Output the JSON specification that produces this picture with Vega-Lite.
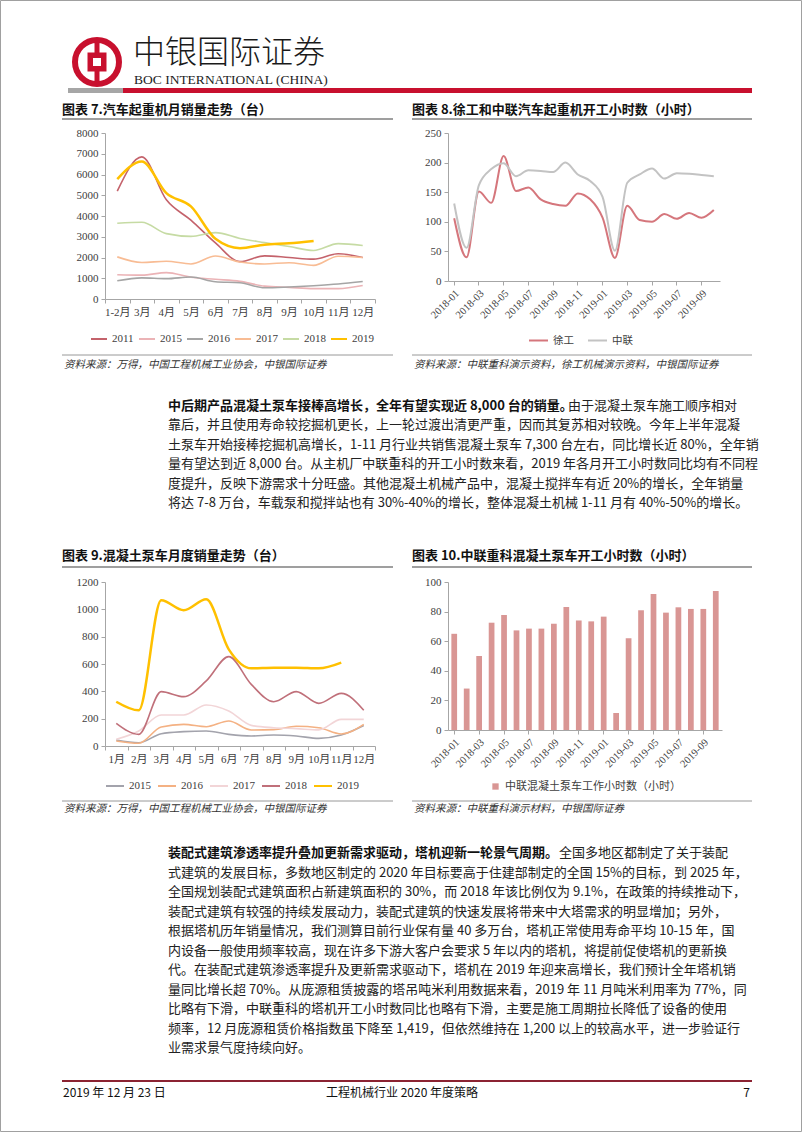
{
  "$schema": "https://vega.github.io/schema/vega-lite/v6.json",
  "padding": 0,
  "background": "white",
  "columns": 3,
  "bounds": "flush",
  "align": {"row": "each", "column": "none"},
  "spacing": {"row": 0, "column": 73},
  "resolve": {"scale": {"color": "independent", "strokeWidth": "independent"}, "legend": {"color": "independent"}},
  "datasets": {
    "one": [{"k": 1}]
  },
  "config": {
    "view": {"stroke": null},
    "axis": {
      "domainColor": "#A6A6A6", "tickColor": "#A6A6A6", "tickSize": 4,
      "labelFont": "Liberation Serif, Noto Sans CJK SC", "labelFontSize": 11,
      "labelColor": "#404040", "title": null, "grid": false, "labelPadding": 3,
      "labelOverlap": false
    },
    "legend": {
      "labelFont": "Liberation Serif, Noto Sans CJK SC", "labelFontSize": 11,
      "labelColor": "#404040", "title": null, "labelOffset": 4
    }
  },
  "concat": [
    {
      "width": 1, "height": 133,
      "resolve": {"scale": {"y": "independent", "x": "independent"}},
      "layer": [
        {"data": {"name": "one"}, "mark": {"type": "rect", "fill": null, "stroke": "#A0A0A0", "strokeWidth": 1}, "encoding": {"x": {"value": 0.5}, "x2": {"value": 801.5}, "y": {"value": 0.5}, "y2": {"value": 1131.5}}},
        {"data": {"name": "one"}, "mark": {"type": "point", "shape": "circle", "filled": false, "stroke": "#C8102E", "strokeWidth": 6, "size": 1936, "opacity": 1}, "encoding": {"x": {"value": 97}, "y": {"value": 62}}},
        {"data": {"name": "one"}, "mark": {"type": "rule", "stroke": "#C8102E", "strokeWidth": 5}, "encoding": {"x": {"value": 97}, "y": {"value": 38}, "y2": {"value": 86}}},
        {"data": {"name": "one"}, "mark": {"type": "point", "shape": "square", "filled": true, "color": "#C8102E", "size": 361, "opacity": 1}, "encoding": {"x": {"value": 97}, "y": {"value": 62}}},
        {"data": {"name": "one"}, "mark": {"type": "point", "shape": "square", "filled": true, "color": "white", "size": 64, "opacity": 1}, "encoding": {"x": {"value": 97}, "y": {"value": 62}}},
        {"data": {"values": [{"t": "中银国际证券"}]}, "mark": {"type": "text", "align": "left", "baseline": "middle", "font": "Noto Sans CJK SC", "fontSize": 32, "fontWeight": 300, "color": "#1a1a1a"}, "encoding": {"text": {"field": "t"}, "x": {"value": 133}, "y": {"value": 53}}},
        {"data": {"values": [{"t": "BOC INTERNATIONAL (CHINA)"}]}, "mark": {"type": "text", "align": "left", "baseline": "middle", "font": "Liberation Serif", "fontSize": 13.5, "color": "#222"}, "encoding": {"text": {"field": "t"}, "x": {"value": 134}, "y": {"value": 80}}},
        {"data": {"name": "one"}, "mark": {"type": "rect", "color": "#A6A6A6"}, "encoding": {"x": {"value": 68}, "x2": {"value": 123}, "y": {"value": 88}, "y2": {"value": 93}}},
        {"data": {"name": "one"}, "mark": {"type": "rect", "color": "#C8102E"}, "encoding": {"x": {"value": 123}, "x2": {"value": 752}, "y": {"value": 88}, "y2": {"value": 93}}},

        {"data": {"values": [{"t": "图表 7.汽车起重机月销量走势（台）"}]}, "mark": {"type": "text", "align": "left", "baseline": "middle", "font": "Noto Sans CJK SC", "fontSize": 13, "fontWeight": "bold", "color": "#111"}, "encoding": {"text": {"field": "t"}, "x": {"value": 62}, "y": {"value": 110}}},
        {"data": {"values": [{"t": "图表 8.徐工和中联汽车起重机开工小时数（小时）"}]}, "mark": {"type": "text", "align": "left", "baseline": "middle", "font": "Noto Sans CJK SC", "fontSize": 13, "fontWeight": "bold", "color": "#111"}, "encoding": {"text": {"field": "t"}, "x": {"value": 412}, "y": {"value": 110}}},
        {"data": {"values": [{"t": "图表 9.混凝土泵车月度销量走势（台）"}]}, "mark": {"type": "text", "align": "left", "baseline": "middle", "font": "Noto Sans CJK SC", "fontSize": 13, "fontWeight": "bold", "color": "#111"}, "encoding": {"text": {"field": "t"}, "x": {"value": 62}, "y": {"value": 556}}},
        {"data": {"values": [{"t": "图表 10.中联重科混凝土泵车开工小时数（小时）"}]}, "mark": {"type": "text", "align": "left", "baseline": "middle", "font": "Noto Sans CJK SC", "fontSize": 13, "fontWeight": "bold", "color": "#111"}, "encoding": {"text": {"field": "t"}, "x": {"value": 412}, "y": {"value": 556}}},
        {"data": {"name": "one"}, "mark": {"type": "rule", "stroke": "#404040", "strokeWidth": 1.2}, "encoding": {"x": {"value": 62}, "x2": {"value": 393}, "y": {"value": 119}}},
        {"data": {"name": "one"}, "mark": {"type": "rule", "stroke": "#404040", "strokeWidth": 1.2}, "encoding": {"x": {"value": 412}, "x2": {"value": 752}, "y": {"value": 119}}},
        {"data": {"name": "one"}, "mark": {"type": "rule", "stroke": "#404040", "strokeWidth": 1.2}, "encoding": {"x": {"value": 62}, "x2": {"value": 393}, "y": {"value": 567}}},
        {"data": {"name": "one"}, "mark": {"type": "rule", "stroke": "#404040", "strokeWidth": 1.2}, "encoding": {"x": {"value": 412}, "x2": {"value": 752}, "y": {"value": 567}}},

        {"data": {"name": "one"}, "mark": {"type": "rule", "stroke": "#7F7F7F", "strokeWidth": 0.8}, "encoding": {"x": {"value": 62}, "x2": {"value": 393}, "y": {"value": 355}}},
        {"data": {"name": "one"}, "mark": {"type": "rule", "stroke": "#7F7F7F", "strokeWidth": 0.8}, "encoding": {"x": {"value": 412}, "x2": {"value": 752}, "y": {"value": 355}}},
        {"data": {"name": "one"}, "mark": {"type": "rule", "stroke": "#7F7F7F", "strokeWidth": 0.8}, "encoding": {"x": {"value": 62}, "x2": {"value": 393}, "y": {"value": 801}}},
        {"data": {"name": "one"}, "mark": {"type": "rule", "stroke": "#7F7F7F", "strokeWidth": 0.8}, "encoding": {"x": {"value": 412}, "x2": {"value": 752}, "y": {"value": 801}}},
        {"data": {"values": [{"t": "资料来源：万得，中国工程机械工业协会，中银国际证券"}]}, "mark": {"type": "text", "align": "left", "baseline": "middle", "font": "Noto Sans CJK SC", "fontSize": 10.5, "fontStyle": "italic", "color": "#333"}, "encoding": {"text": {"field": "t"}, "x": {"value": 64}, "y": {"value": 365}}},
        {"data": {"values": [{"t": "资料来源：中联重科演示资料，徐工机械演示资料，中银国际证券"}]}, "mark": {"type": "text", "align": "left", "baseline": "middle", "font": "Noto Sans CJK SC", "fontSize": 10.5, "fontStyle": "italic", "color": "#333"}, "encoding": {"text": {"field": "t"}, "x": {"value": 414}, "y": {"value": 365}}},
        {"data": {"values": [{"t": "资料来源：万得，中国工程机械工业协会，中银国际证券"}]}, "mark": {"type": "text", "align": "left", "baseline": "middle", "font": "Noto Sans CJK SC", "fontSize": 10.5, "fontStyle": "italic", "color": "#333"}, "encoding": {"text": {"field": "t"}, "x": {"value": 64}, "y": {"value": 809}}},
        {"data": {"values": [{"t": "资料来源：中联重科演示材料，中银国际证券"}]}, "mark": {"type": "text", "align": "left", "baseline": "middle", "font": "Noto Sans CJK SC", "fontSize": 10.5, "fontStyle": "italic", "color": "#333"}, "encoding": {"text": {"field": "t"}, "x": {"value": 414}, "y": {"value": 809}}},

        {"data": {"values": [{"t": "中后期产品混凝土泵车接棒高增长，全年有望实现近 8,000 台的销量。"}]}, "mark": {"type": "text", "align": "left", "baseline": "middle", "font": "Liberation Sans Narrow, Noto Sans CJK SC", "fontSize": 13, "fontWeight": "bold", "color": "#111"}, "encoding": {"text": {"field": "t"}, "x": {"value": 168}, "y": {"value": 406}}},
        {"data": {"values": [{"t": "由于混凝土泵车施工顺序相对"}]}, "mark": {"type": "text", "align": "left", "baseline": "middle", "font": "Liberation Sans Narrow, Noto Sans CJK SC", "fontSize": 13, "color": "#222", "dx": 400}, "encoding": {"text": {"field": "t"}, "x": {"value": 168}, "y": {"value": 406}}},
        {"data": {"values": [
          {"line": 2, "t": "靠后，并且使用寿命较挖掘机更长，上一轮过渡出清更严重，因而其复苏相对较晚。今年上半年混凝"},
          {"line": 3, "t": "土泵车开始接棒挖掘机高增长，1-11 月行业共销售混凝土泵车 7,300 台左右，同比增长近 80%，全年销"},
          {"line": 4, "t": "量有望达到近 8,000 台。从主机厂中联重科的开工小时数来看，2019 年各月开工小时数同比均有不同程"},
          {"line": 5, "t": "度提升，反映下游需求十分旺盛。其他混凝土机械产品中，混凝土搅拌车有近 20%的增长，全年销量"},
          {"line": 6, "t": "将达 7-8 万台，车载泵和搅拌站也有 30%-40%的增长，整体混凝土机械 1-11 月有 40%-50%的增长。"}
        ]}, "mark": {"type": "text", "align": "left", "baseline": "middle", "font": "Liberation Sans Narrow, Noto Sans CJK SC", "fontSize": 13, "color": "#222"},
         "encoding": {"text": {"field": "t"}, "x": {"value": 168}, "y": {"field": "line", "type": "quantitative", "scale": {"domain": [1, 6], "range": [406, 503], "zero": false, "nice": false}, "axis": null}}},

        {"data": {"values": [{"t": "装配式建筑渗透率提升叠加更新需求驱动，塔机迎新一轮景气周期。"}]}, "mark": {"type": "text", "align": "left", "baseline": "middle", "font": "Liberation Sans Narrow, Noto Sans CJK SC", "fontSize": 13, "fontWeight": "bold", "color": "#111"}, "encoding": {"text": {"field": "t"}, "x": {"value": 168}, "y": {"value": 853}}},
        {"data": {"values": [{"t": "全国多地区都制定了关于装配"}]}, "mark": {"type": "text", "align": "left", "baseline": "middle", "font": "Liberation Sans Narrow, Noto Sans CJK SC", "fontSize": 13, "color": "#222", "dx": 391}, "encoding": {"text": {"field": "t"}, "x": {"value": 168}, "y": {"value": 853}}},
        {"data": {"values": [
          {"line": 2, "t": "式建筑的发展目标，多数地区制定的 2020 年目标要高于住建部制定的全国 15%的目标，到 2025 年，"},
          {"line": 3, "t": "全国规划装配式建筑面积占新建筑面积的 30%，而 2018 年该比例仅为 9.1%，在政策的持续推动下，"},
          {"line": 4, "t": "装配式建筑有较强的持续发展动力，装配式建筑的快速发展将带来中大塔需求的明显增加；另外，"},
          {"line": 5, "t": "根据塔机历年销量情况，我们测算目前行业保有量 40 多万台，塔机正常使用寿命平均 10-15 年，国"},
          {"line": 6, "t": "内设备一般使用频率较高，现在许多下游大客户会要求 5 年以内的塔机，将提前促使塔机的更新换"},
          {"line": 7, "t": "代。在装配式建筑渗透率提升及更新需求驱动下，塔机在 2019 年迎来高增长，我们预计全年塔机销"},
          {"line": 8, "t": "量同比增长超 70%。从庞源租赁披露的塔吊吨米利用数据来看，2019 年 11 月吨米利用率为 77%，同"},
          {"line": 9, "t": "比略有下滑，中联重科的塔机开工小时数同比也略有下滑，主要是施工周期拉长降低了设备的使用"},
          {"line": 10, "t": "频率，12 月庞源租赁价格指数虽下降至 1,419，但依然维持在 1,200 以上的较高水平，进一步验证行"},
          {"line": 11, "t": "业需求景气度持续向好。"}
        ]}, "mark": {"type": "text", "align": "left", "baseline": "middle", "font": "Liberation Sans Narrow, Noto Sans CJK SC", "fontSize": 13, "color": "#222"},
         "encoding": {"text": {"field": "t"}, "x": {"value": 168}, "y": {"field": "line", "type": "quantitative", "scale": {"domain": [1, 11], "range": [853, 1048], "zero": false, "nice": false}, "axis": null}}},

        {"data": {"name": "one"}, "mark": {"type": "rule", "stroke": "#8B2332", "strokeWidth": 2}, "encoding": {"x": {"value": 62}, "x2": {"value": 752}, "y": {"value": 1081}}},
        {"data": {"values": [{"t": "2019 年 12 月 23 日"}]}, "mark": {"type": "text", "align": "left", "baseline": "middle", "font": "Liberation Sans Narrow, Noto Sans CJK SC", "fontSize": 12, "color": "#111"}, "encoding": {"text": {"field": "t"}, "x": {"value": 63}, "y": {"value": 1093}}},
        {"data": {"values": [{"t": "工程机械行业 2020 年度策略"}]}, "mark": {"type": "text", "align": "center", "baseline": "middle", "font": "Liberation Sans Narrow, Noto Sans CJK SC", "fontSize": 12, "color": "#111"}, "encoding": {"text": {"field": "t"}, "x": {"value": 402}, "y": {"value": 1093}}},
        {"data": {"values": [{"t": "7"}]}, "mark": {"type": "text", "align": "right", "baseline": "middle", "font": "Liberation Sans Narrow, Noto Sans CJK SC", "fontSize": 12, "color": "#111"}, "encoding": {"text": {"field": "t"}, "x": {"value": 750}, "y": {"value": 1093}}}
      ]
    },
    {"width": 1, "height": 1, "data": {"values": []}, "mark": "point"},
    {"width": 1, "height": 1, "data": {"values": []}, "mark": "point"},

    {"width": 32, "height": 1, "data": {"values": []}, "mark": "point"},
    {
      "width": 270, "height": 166,
      "data": {"values": [
        {"m": "1-2月", "s": "2011", "v": 5200}, {"m": "3月", "s": "2011", "v": 6850}, {"m": "4月", "s": "2011", "v": 4780}, {"m": "5月", "s": "2011", "v": 3800}, {"m": "6月", "s": "2011", "v": 2700}, {"m": "7月", "s": "2011", "v": 1800}, {"m": "8月", "s": "2011", "v": 2080}, {"m": "9月", "s": "2011", "v": 2000}, {"m": "10月", "s": "2011", "v": 1920}, {"m": "11月", "s": "2011", "v": 2180}, {"m": "12月", "s": "2011", "v": 2000},
        {"m": "1-2月", "s": "2015", "v": 1170}, {"m": "3月", "s": "2015", "v": 1150}, {"m": "4月", "s": "2015", "v": 1270}, {"m": "5月", "s": "2015", "v": 1050}, {"m": "6月", "s": "2015", "v": 950}, {"m": "7月", "s": "2015", "v": 850}, {"m": "8月", "s": "2015", "v": 620}, {"m": "9月", "s": "2015", "v": 560}, {"m": "10月", "s": "2015", "v": 500}, {"m": "11月", "s": "2015", "v": 500}, {"m": "12月", "s": "2015", "v": 650},
        {"m": "1-2月", "s": "2016", "v": 880}, {"m": "3月", "s": "2016", "v": 1020}, {"m": "4月", "s": "2016", "v": 980}, {"m": "5月", "s": "2016", "v": 1060}, {"m": "6月", "s": "2016", "v": 830}, {"m": "7月", "s": "2016", "v": 780}, {"m": "8月", "s": "2016", "v": 540}, {"m": "9月", "s": "2016", "v": 580}, {"m": "10月", "s": "2016", "v": 640}, {"m": "11月", "s": "2016", "v": 720}, {"m": "12月", "s": "2016", "v": 840},
        {"m": "1-2月", "s": "2017", "v": 2030}, {"m": "3月", "s": "2017", "v": 1760}, {"m": "4月", "s": "2017", "v": 1820}, {"m": "5月", "s": "2017", "v": 1690}, {"m": "6月", "s": "2017", "v": 2070}, {"m": "7月", "s": "2017", "v": 1780}, {"m": "8月", "s": "2017", "v": 1690}, {"m": "9月", "s": "2017", "v": 1750}, {"m": "10月", "s": "2017", "v": 1620}, {"m": "11月", "s": "2017", "v": 2060}, {"m": "12月", "s": "2017", "v": 2000},
        {"m": "1-2月", "s": "2018", "v": 3650}, {"m": "3月", "s": "2018", "v": 3700}, {"m": "4月", "s": "2018", "v": 3150}, {"m": "5月", "s": "2018", "v": 3020}, {"m": "6月", "s": "2018", "v": 3200}, {"m": "7月", "s": "2018", "v": 2920}, {"m": "8月", "s": "2018", "v": 2720}, {"m": "9月", "s": "2018", "v": 2530}, {"m": "10月", "s": "2018", "v": 2340}, {"m": "11月", "s": "2018", "v": 2670}, {"m": "12月", "s": "2018", "v": 2580},
        {"m": "1-2月", "s": "2019", "v": 5780}, {"m": "3月", "s": "2019", "v": 6630}, {"m": "4月", "s": "2019", "v": 5100}, {"m": "5月", "s": "2019", "v": 4460}, {"m": "6月", "s": "2019", "v": 2900}, {"m": "7月", "s": "2019", "v": 2450}, {"m": "8月", "s": "2019", "v": 2620}, {"m": "9月", "s": "2019", "v": 2690}, {"m": "10月", "s": "2019", "v": 2800}
      ]},
      "mark": {"type": "line", "interpolate": "monotone"},
      "encoding": {
        "x": {"field": "m", "type": "ordinal", "sort": ["1-2月", "3月", "4月", "5月", "6月", "7月", "8月", "9月", "10月", "11月", "12月"], "scale": {"type": "band", "paddingInner": 0, "paddingOuter": 0}, "axis": {"labelAngle": 0, "tickBand": "extent"}},
        "y": {"field": "v", "type": "quantitative", "scale": {"domain": [0, 8000], "nice": false}, "axis": {"values": [0, 1000, 2000, 3000, 4000, 5000, 6000, 7000, 8000], "format": "d"}},
        "color": {"field": "s", "type": "nominal", "scale": {"domain": ["2011", "2015", "2016", "2017", "2018", "2019"], "range": ["#C4626B", "#EBB3B6", "#A5A5A5", "#F8BC94", "#C6DBA4", "#FFC000"]},
          "legend": {"orient": "none", "legendX": -15, "legendY": 197, "direction": "horizontal", "symbolType": "stroke", "symbolSize": 256, "symbolStrokeWidth": 2, "columnPadding": 1}},
        "strokeWidth": {"condition": {"test": "datum.s === '2019'", "value": 2.5}, "value": 1.6}
      }
    },
    {
      "width": 272, "height": 148,
      "data": {"values": [
        {"d": "2018-01", "s": "徐工", "v": 106}, {"d": "2018-02", "s": "徐工", "v": 40}, {"d": "2018-03", "s": "徐工", "v": 151}, {"d": "2018-04", "s": "徐工", "v": 132}, {"d": "2018-05", "s": "徐工", "v": 211}, {"d": "2018-06", "s": "徐工", "v": 152}, {"d": "2018-07", "s": "徐工", "v": 158}, {"d": "2018-08", "s": "徐工", "v": 138}, {"d": "2018-09", "s": "徐工", "v": 130}, {"d": "2018-10", "s": "徐工", "v": 127}, {"d": "2018-11", "s": "徐工", "v": 148}, {"d": "2018-12", "s": "徐工", "v": 138},
        {"d": "2019-01", "s": "徐工", "v": 107}, {"d": "2019-02", "s": "徐工", "v": 39}, {"d": "2019-03", "s": "徐工", "v": 127}, {"d": "2019-04", "s": "徐工", "v": 103}, {"d": "2019-05", "s": "徐工", "v": 100}, {"d": "2019-06", "s": "徐工", "v": 113}, {"d": "2019-07", "s": "徐工", "v": 105}, {"d": "2019-08", "s": "徐工", "v": 115}, {"d": "2019-09", "s": "徐工", "v": 107}, {"d": "2019-10", "s": "徐工", "v": 120},
        {"d": "2018-01", "s": "中联", "v": 131}, {"d": "2018-02", "s": "中联", "v": 56}, {"d": "2018-03", "s": "中联", "v": 162}, {"d": "2018-04", "s": "中联", "v": 189}, {"d": "2018-05", "s": "中联", "v": 199}, {"d": "2018-06", "s": "中联", "v": 177}, {"d": "2018-07", "s": "中联", "v": 187}, {"d": "2018-08", "s": "中联", "v": 186}, {"d": "2018-09", "s": "中联", "v": 184}, {"d": "2018-10", "s": "中联", "v": 200}, {"d": "2018-11", "s": "中联", "v": 180}, {"d": "2018-12", "s": "中联", "v": 169},
        {"d": "2019-01", "s": "中联", "v": 142}, {"d": "2019-02", "s": "中联", "v": 51}, {"d": "2019-03", "s": "中联", "v": 166}, {"d": "2019-04", "s": "中联", "v": 180}, {"d": "2019-05", "s": "中联", "v": 190}, {"d": "2019-06", "s": "中联", "v": 173}, {"d": "2019-07", "s": "中联", "v": 182}, {"d": "2019-08", "s": "中联", "v": 181}, {"d": "2019-09", "s": "中联", "v": 179}, {"d": "2019-10", "s": "中联", "v": 177}
      ]},
      "mark": {"type": "line", "interpolate": "monotone", "strokeWidth": 2},
      "encoding": {
        "x": {"field": "d", "type": "ordinal", "scale": {"type": "band", "paddingInner": 0, "paddingOuter": 0}, "axis": {"labelAngle": -45, "labelFontSize": 10.5, "values": ["2018-01", "2018-03", "2018-05", "2018-07", "2018-09", "2018-11", "2019-01", "2019-03", "2019-05", "2019-07", "2019-09"]}},
        "y": {"field": "v", "type": "quantitative", "scale": {"domain": [0, 250], "nice": false}, "axis": {"values": [0, 50, 100, 150, 200, 250], "format": "d"}},
        "color": {"field": "s", "type": "nominal", "scale": {"domain": ["徐工", "中联"], "range": ["#D5767C", "#C3C3C3"]},
          "legend": {"orient": "none", "legendX": 80, "legendY": 197, "direction": "horizontal", "symbolType": "stroke", "symbolSize": 361, "symbolStrokeWidth": 2, "columnPadding": 10, "labelFontSize": 10.5}}
      }
    },

    {"width": 1, "height": 283, "data": {"values": []}, "mark": "point"},
    {"width": 1, "height": 1, "data": {"values": []}, "mark": "point"},
    {"width": 1, "height": 1, "data": {"values": []}, "mark": "point"},

    {"width": 31, "height": 1, "data": {"values": []}, "mark": "point"},
    {
      "width": 270, "height": 164,
      "data": {"values": [
        {"m": "1月", "s": "2015", "v": 44}, {"m": "2月", "s": "2015", "v": 24}, {"m": "3月", "s": "2015", "v": 90}, {"m": "4月", "s": "2015", "v": 105}, {"m": "5月", "s": "2015", "v": 110}, {"m": "6月", "s": "2015", "v": 85}, {"m": "7月", "s": "2015", "v": 73}, {"m": "8月", "s": "2015", "v": 80}, {"m": "9月", "s": "2015", "v": 73}, {"m": "10月", "s": "2015", "v": 56}, {"m": "11月", "s": "2015", "v": 80}, {"m": "12月", "s": "2015", "v": 150},
        {"m": "1月", "s": "2016", "v": 37}, {"m": "2月", "s": "2016", "v": 20}, {"m": "3月", "s": "2016", "v": 139}, {"m": "4月", "s": "2016", "v": 158}, {"m": "5月", "s": "2016", "v": 141}, {"m": "6月", "s": "2016", "v": 183}, {"m": "7月", "s": "2016", "v": 117}, {"m": "8月", "s": "2016", "v": 120}, {"m": "9月", "s": "2016", "v": 144}, {"m": "10月", "s": "2016", "v": 134}, {"m": "11月", "s": "2016", "v": 88}, {"m": "12月", "s": "2016", "v": 158},
        {"m": "1月", "s": "2017", "v": 49}, {"m": "2月", "s": "2017", "v": 110}, {"m": "3月", "s": "2017", "v": 227}, {"m": "4月", "s": "2017", "v": 227}, {"m": "5月", "s": "2017", "v": 300}, {"m": "6月", "s": "2017", "v": 256}, {"m": "7月", "s": "2017", "v": 151}, {"m": "8月", "s": "2017", "v": 134}, {"m": "9月", "s": "2017", "v": 127}, {"m": "10月", "s": "2017", "v": 118}, {"m": "11月", "s": "2017", "v": 195}, {"m": "12月", "s": "2017", "v": 195},
        {"m": "1月", "s": "2018", "v": 166}, {"m": "2月", "s": "2018", "v": 85}, {"m": "3月", "s": "2018", "v": 398}, {"m": "4月", "s": "2018", "v": 361}, {"m": "5月", "s": "2018", "v": 476}, {"m": "6月", "s": "2018", "v": 654}, {"m": "7月", "s": "2018", "v": 451}, {"m": "8月", "s": "2018", "v": 324}, {"m": "9月", "s": "2018", "v": 398}, {"m": "10月", "s": "2018", "v": 312}, {"m": "11月", "s": "2018", "v": 385}, {"m": "12月", "s": "2018", "v": 261},
        {"m": "1月", "s": "2019", "v": 324}, {"m": "2月", "s": "2019", "v": 261}, {"m": "3月", "s": "2019", "v": 1066}, {"m": "4月", "s": "2019", "v": 993}, {"m": "5月", "s": "2019", "v": 1073}, {"m": "6月", "s": "2019", "v": 707}, {"m": "7月", "s": "2019", "v": 568}, {"m": "8月", "s": "2019", "v": 573}, {"m": "9月", "s": "2019", "v": 573}, {"m": "10月", "s": "2019", "v": 568}, {"m": "11月", "s": "2019", "v": 610}
      ]},
      "mark": {"type": "line", "interpolate": "monotone"},
      "encoding": {
        "x": {"field": "m", "type": "ordinal", "sort": ["1月", "2月", "3月", "4月", "5月", "6月", "7月", "8月", "9月", "10月", "11月", "12月"], "scale": {"type": "band", "paddingInner": 0, "paddingOuter": 0}, "axis": {"labelAngle": 0, "tickBand": "extent"}},
        "y": {"field": "v", "type": "quantitative", "scale": {"domain": [0, 1200], "nice": false}, "axis": {"values": [0, 200, 400, 600, 800, 1000, 1200], "format": "d"}},
        "color": {"field": "s", "type": "nominal", "scale": {"domain": ["2015", "2016", "2017", "2018", "2019"], "range": ["#A3A3AC", "#F4B183", "#F2D5D7", "#C0707A", "#FFC000"]},
          "legend": {"orient": "none", "legendX": 0, "legendY": 194, "direction": "horizontal", "symbolType": "stroke", "symbolSize": 324, "symbolStrokeWidth": 2, "columnPadding": 3}},
        "strokeWidth": {"condition": {"test": "datum.s === '2019'", "value": 2.5}, "value": 1.6}
      }
    },
    {
      "width": 274, "height": 148,
      "data": {"values": [
        {"d": "2018-01", "s": "中联混凝土泵车工作小时数（小时）", "v": 65}, {"d": "2018-02", "s": "中联混凝土泵车工作小时数（小时）", "v": 28}, {"d": "2018-03", "s": "中联混凝土泵车工作小时数（小时）", "v": 50}, {"d": "2018-04", "s": "中联混凝土泵车工作小时数（小时）", "v": 72.5}, {"d": "2018-05", "s": "中联混凝土泵车工作小时数（小时）", "v": 77.7}, {"d": "2018-06", "s": "中联混凝土泵车工作小时数（小时）", "v": 67.3}, {"d": "2018-07", "s": "中联混凝土泵车工作小时数（小时）", "v": 68.5}, {"d": "2018-08", "s": "中联混凝土泵车工作小时数（小时）", "v": 68.5}, {"d": "2018-09", "s": "中联混凝土泵车工作小时数（小时）", "v": 71.8}, {"d": "2018-10", "s": "中联混凝土泵车工作小时数（小时）", "v": 83.1}, {"d": "2018-11", "s": "中联混凝土泵车工作小时数（小时）", "v": 74}, {"d": "2018-12", "s": "中联混凝土泵车工作小时数（小时）", "v": 73.4},
        {"d": "2019-01", "s": "中联混凝土泵车工作小时数（小时）", "v": 76.6}, {"d": "2019-02", "s": "中联混凝土泵车工作小时数（小时）", "v": 11.5}, {"d": "2019-03", "s": "中联混凝土泵车工作小时数（小时）", "v": 62}, {"d": "2019-04", "s": "中联混凝土泵车工作小时数（小时）", "v": 80.9}, {"d": "2019-05", "s": "中联混凝土泵车工作小时数（小时）", "v": 91.9}, {"d": "2019-06", "s": "中联混凝土泵车工作小时数（小时）", "v": 79.3}, {"d": "2019-07", "s": "中联混凝土泵车工作小时数（小时）", "v": 82.9}, {"d": "2019-08", "s": "中联混凝土泵车工作小时数（小时）", "v": 81.8}, {"d": "2019-09", "s": "中联混凝土泵车工作小时数（小时）", "v": 81.8}, {"d": "2019-10", "s": "中联混凝土泵车工作小时数（小时）", "v": 93.9}
      ]},
      "mark": {"type": "bar"},
      "encoding": {
        "x": {"field": "d", "type": "ordinal", "scale": {"type": "band", "paddingInner": 0.54, "paddingOuter": 0.27}, "axis": {"labelAngle": -45, "labelFontSize": 10.5, "values": ["2018-01", "2018-03", "2018-05", "2018-07", "2018-09", "2018-11", "2019-01", "2019-03", "2019-05", "2019-07", "2019-09"]}},
        "y": {"field": "v", "type": "quantitative", "scale": {"domain": [0, 100], "nice": false}, "axis": {"values": [0, 20, 40, 60, 80, 100], "format": "d"}},
        "color": {"field": "s", "type": "nominal", "scale": {"range": ["#D99694"]},
          "legend": {"orient": "none", "legendX": 42, "legendY": 199, "symbolType": "square", "symbolSize": 40, "labelFontSize": 11, "labelLimit": 300}}
      }
    },

    {"width": 1, "height": 387, "data": {"values": []}, "mark": "point"},
    {"width": 1, "height": 1, "data": {"values": []}, "mark": "point"},
    {"width": 1, "height": 1, "data": {"values": []}, "mark": "point"}
  ]
}
